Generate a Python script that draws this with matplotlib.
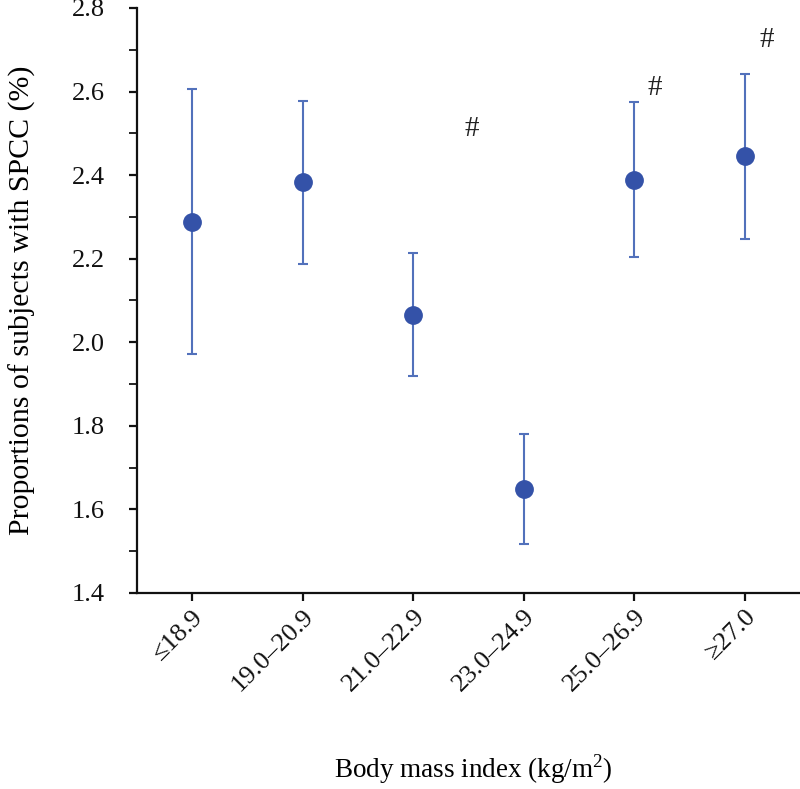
import matplotlib
matplotlib.use("Agg")
import matplotlib.pyplot as plt
from matplotlib.ticker import MultipleLocator, FormatStrFormatter
from matplotlib.transforms import ScaledTranslation

categories = ["≤18.9", "19.0–20.9", "21.0–22.9", "23.0–24.9", "25.0–26.9", "≥27.0"]
proportion = [2.288, 2.383, 2.066, 1.648, 2.389, 2.447]
ci_upper = [2.606, 2.578, 2.213, 1.781, 2.574, 2.643]
ci_lower = [1.971, 2.187, 1.919, 1.517, 2.204, 2.247]
hash_x = [2.53, 4.19, 5.20]
hash_y = [2.51, 2.608, 2.723]

plt.rcParams['font.family'] = ['Liberation Serif', 'DejaVu Serif']
plt.rcParams['mathtext.fontset'] = 'custom'
plt.rcParams['mathtext.rm'] = 'Liberation Serif'

fig = plt.figure(figsize=(8, 7.89), dpi=100)
ax = fig.add_axes([137/800, 1 - 593/789, 1 - 137/800, (593 - 8)/789])

x = list(range(len(categories)))
yerr_lo = [p - l for p, l in zip(proportion, ci_lower)]
yerr_hi = [u - p for p, u in zip(proportion, ci_upper)]
ax.errorbar(x, proportion, yerr=[yerr_lo, yerr_hi], fmt='none',
            ecolor='#5271bb', elinewidth=1.5, capsize=3.4, capthick=1.5, zorder=2)
ax.plot(x, proportion, 'o', color='#3452a8', markersize=12.5, zorder=3)

for hx, hy in zip(hash_x, hash_y):
    ax.text(hx, hy, "#", fontsize=21, ha='center', va='center', color='#222222')

ax.set_xlim(-0.5, 5.5)
ax.set_ylim(1.4, 2.8)
ax.yaxis.set_major_locator(MultipleLocator(0.2))
ax.yaxis.set_minor_locator(MultipleLocator(0.1))
ax.yaxis.set_major_formatter(FormatStrFormatter('%.1f'))
ax.set_xticks(x)
ax.set_xticklabels(categories, rotation=45, ha='right', va='top', rotation_mode='anchor')
offset = ScaledTranslation(9/100, 0, fig.dpi_scale_trans)
for lbl in ax.get_xticklabels():
    lbl.set_transform(lbl.get_transform() + offset)

for s in ['top', 'right']:
    ax.spines[s].set_visible(False)
for s in ['left', 'bottom']:
    ax.spines[s].set_linewidth(1.6)
    ax.spines[s].set_color('#111111')

ax.tick_params(axis='both', which='major', direction='out', length=6, width=1.6,
               labelsize=19, colors='#111111')
ax.tick_params(axis='y', which='minor', direction='out', length=6, width=1.2)
ax.tick_params(axis='y', which='major', pad=17)
ax.tick_params(axis='x', which='major', pad=3)

ax.set_ylabel("Proportions of subjects with SPCC (%)", fontsize=21.5)
ax.set_xlabel("Body mass index (kg/m$^{2}$)", fontsize=19.5)
ax.yaxis.set_label_coords(-0.152, 0.5)
ax.xaxis.set_label_coords(0.507, -0.272)

fig.savefig("out.png", dpi=100)
